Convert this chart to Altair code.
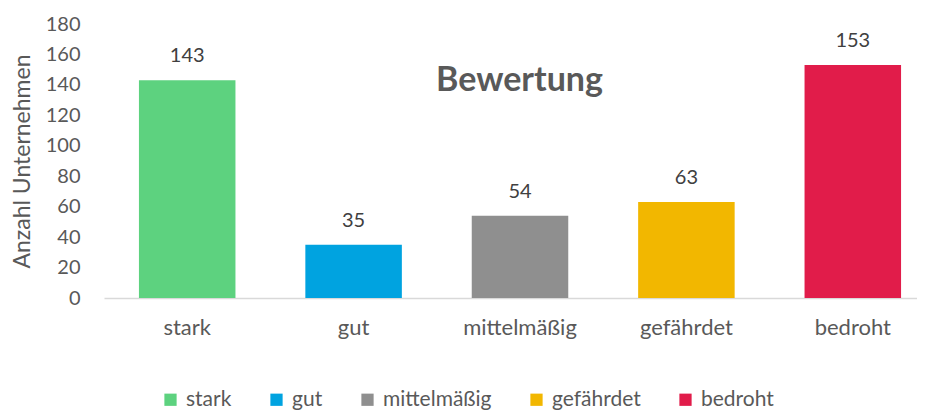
import altair as alt
import pandas as pd

categories = ["stark", "gut", "mittelmäßig", "gefährdet", "bedroht"]
values = [143, 35, 54, 63, 153]
colors = ["#5DD27F", "#00A3E0", "#8F8F8F", "#F2B700", "#E11C4A"]
y_ticks = [0, 20, 40, 60, 80, 100, 120, 140, 160, 180]

df = pd.DataFrame({"Bewertung": categories, "Anzahl": values})

FONT = "Lato"
GREY = "#595959"

x = alt.X(
    "Bewertung:N",
    sort=categories,
    scale=alt.Scale(range=[0, 832], paddingInner=0.42, paddingOuter=0.21),
    axis=alt.Axis(
        title=None, labelAngle=0, ticks=False, domainColor="#D9D9D9", domainWidth=1.5,
        labelFontSize=22, labelColor=GREY, labelFont=FONT, labelPadding=19,
    ),
)
y = alt.Y(
    "Anzahl:Q",
    scale=alt.Scale(domain=[0, 180], nice=False),
    axis=alt.Axis(
        values=y_ticks, title="Anzahl Unternehmen", grid=False, domain=False, ticks=False,
        labelFontSize=20, labelColor=GREY, labelFont=FONT, labelPadding=24,
        titleFontSize=23, titleColor=GREY, titleFont=FONT, titleFontWeight="normal",
        titlePadding=11,
    ),
)

bars = alt.Chart(df).mark_bar().encode(
    x=x,
    y=y,
    color=alt.Color(
        "Bewertung:N",
        sort=categories,
        scale=alt.Scale(domain=categories, range=colors),
        legend=alt.Legend(
            title=None, orient="none", direction="horizontal", legendX=56, legendY=365,
            symbolType="square", symbolSize=150, symbolStrokeWidth=0,
            labelFontSize=21, labelColor=GREY, labelFont=FONT, labelOffset=5,
            columnPadding=34,
        ),
    ),
)

labels = alt.Chart(df).mark_text(
    baseline="alphabetic", dy=-18, fontSize=20, font=FONT, color="#404040"
).encode(x=x, y=y, text="Anzahl:Q")

chart = (
    alt.layer(bars, labels)
    .properties(
        width=813,
        height=274,
        autosize=alt.AutoSizeParams(type="none"),
        padding={"left": 96, "top": 16, "right": 0, "bottom": 114},
        title=alt.TitleParams(
            "Bewertung", fontSize=34, fontWeight="bold", color=GREY, font=FONT,
            anchor="middle", frame="group", offset=-111, dx=9, baseline="alphabetic",
        ),
    )
    .configure_view(stroke=None)
)

chart.save("out.html", embed_options={"renderer": "svg", "actions": False})
